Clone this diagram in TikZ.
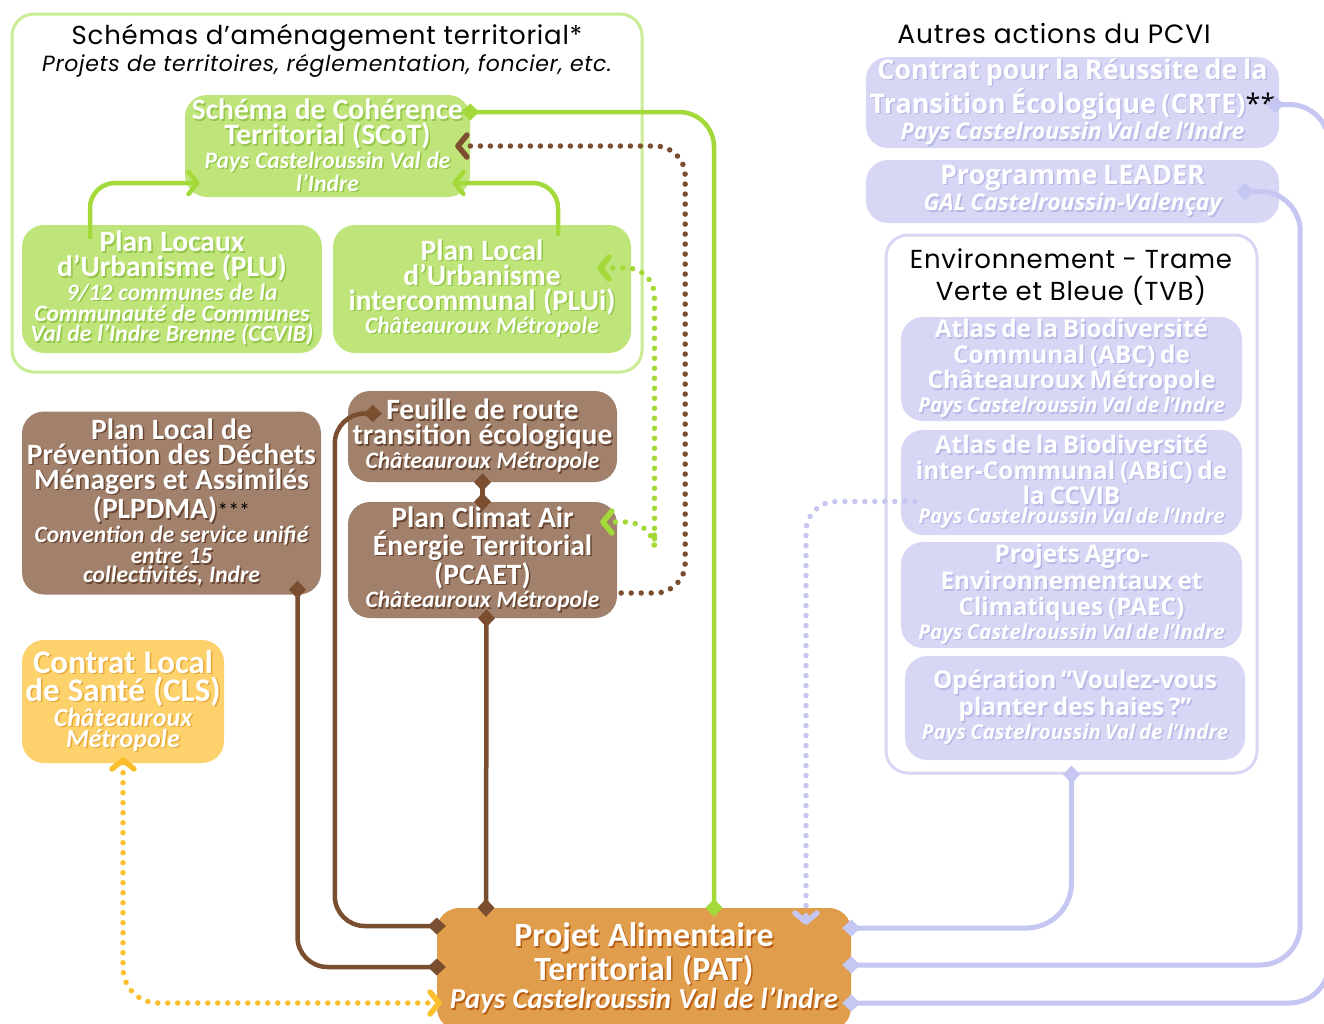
\documentclass[tikz,border=0pt]{standalone}
\usepackage{fontspec}
\setmainfont{Carlito}
\newfontfamily\lavfont{Open Sans}
\newfontfamily\headfont{Poppins}[LetterSpace=3.0]
\usetikzlibrary{arrows.meta}
\setlength{\parindent}{0pt}

\definecolor{grfill}{HTML}{BFE57A}
\definecolor{grline}{HTML}{A4D93A}
\definecolor{grframe}{HTML}{C9EC95}
\definecolor{grshd}{HTML}{93C548}
\definecolor{brfill}{HTML}{A1816B}
\definecolor{brline}{HTML}{7A4E2E}
\definecolor{brshd}{HTML}{684632}
\definecolor{yefill}{HTML}{FDD16B}
\definecolor{yeline}{HTML}{FBBE2C}
\definecolor{yeshd}{HTML}{E6A838}
\definecolor{patfill}{HTML}{E09D4B}
\definecolor{patshd}{HTML}{B85E12}
\definecolor{lvfill}{HTML}{D7D7F5}
\definecolor{lvline}{HTML}{C5C7F2}
\definecolor{lvshd}{HTML}{B8B8E6}
\colorlet{shd}{black}

% text with a small drop shadow
\newcommand{\sh}[1]{\leavevmode\rlap{\kern1.5pt\raisebox{-1.5pt}{\textcolor{shd}{#1}}}#1}
\newcommand{\wsp}{\spaceskip=0.25em\relax}
\newcommand{\lsp}{\spaceskip=0.2em\relax}
\newcommand{\mainsz}{\fontsize{29.5}{25}\selectfont\bfseries\wsp}
\newcommand{\subsz}{\fontsize{23.5}{21.5}\selectfont\bfseries\itshape\wsp}
\newcommand{\lavmain}{\lavfont\fontsize{24.3}{25.5}\selectfont\bfseries\lsp}
\newcommand{\lavsub}{\lavfont\fontsize{20.5}{23}\selectfont\bfseries\itshape\lsp}

\tikzset{
  dia/.tip={Diamond[length=18pt,width=17pt]},
  chev/.tip={Straight Barb[length=9pt,width=22pt,round]},
  wh/.style 2 args={minimum width=#1, minimum height=#2, text width=#1},
  plan/.style={rectangle, rounded corners=22pt, inner sep=0pt, align=flush center, text=white},
  plangreen/.style={plan, fill=grfill, execute at begin node={\colorlet{shd}{grshd}}},
  planbrown/.style={plan, fill=brfill, execute at begin node={\colorlet{shd}{brshd}}},
  planyellow/.style={plan, fill=yefill, execute at begin node={\colorlet{shd}{yeshd}}},
  planpat/.style={plan, fill=patfill, execute at begin node={\colorlet{shd}{patshd}}},
  planlav/.style={plan, fill=lvfill, execute at begin node={\colorlet{shd}{lvshd}}},
  frame/.style={rectangle, rounded corners=22pt, line width=3pt, inner sep=0pt},
  link/.style={line width=4.5pt, rounded corners=30pt},
  dots/.style={line width=5.5pt, line cap=round, dash pattern=on 0pt off 10pt},
}

\begin{document}
\begin{tikzpicture}[x=1pt, y=-1pt]
\useasboundingbox (0,0) rectangle (1324,1023);

% frames and titles
\node[frame, draw=grframe, minimum width=630pt, minimum height=358pt] (schframe) at (327,193) {};
\node[frame, draw=lvfill, minimum width=371pt, minimum height=538pt] (tvb) at (1071.5,504) {};
\node[font=\headfont\fontsize{26}{28}\selectfont] (schtitle) at (327,38) {Schémas d’aménagement territorial*};
\node[font=\headfont\fontsize{22}{23}\selectfont\itshape] (schsub) at (327,66) {Projets de territoires, réglementation, foncier, etc.};
\node[font=\headfont\fontsize{26.5}{28}\selectfont] (autres) at (1054,34) {Autres actions du PCVI};
\node[font=\headfont\fontsize{26}{32}\selectfont, align=center] (tvbtitle) at (1071,277) {Environnement - Trame\\Verte et Bleue (TVB)};

% green plans
\node[plangreen, wh={285pt}{102pt}] (scot) at (327.5,146)
  {\mainsz\sh{Schéma de Cohérence}\\\sh{Territorial (SCoT)}\par
   \subsz\sh{Pays Castelroussin Val de}\\\sh{l’Indre}};
\node[plangreen, wh={300pt}{128pt}] (plu) at (172,289)
  {\mainsz\sh{Plan Locaux}\\\sh{d’Urbanisme (PLU)}\par
   \subsz\sh{9/12 communes de la}\\\sh{Communauté de Communes}\\\sh{Val de l’Indre Brenne (CCVIB)}};
\node[plangreen, wh={298pt}{128pt}] (plui) at (482,289)
  {\mainsz\sh{Plan Local}\\\sh{d’Urbanisme}\\\sh{intercommunal (PLUi)}\par
   \subsz\sh{Châteauroux Métropole}};

% brown plans
\node[planbrown, wh={299pt}{183pt}] (plpdma) at (171.5,503)
  {\mainsz\sh{Plan Local de}\\\sh{Prévention des Déchets}\\\sh{Ménagers et Assimilés}\\\sh{(PLPDMA)}{\color{black}\mdseries\fontsize{22}{20}\selectfont***}\par
   \subsz\sh{Convention de service unifié}\\\sh{entre 15}\\\sh{collectivités, Indre}};
\node[planbrown, wh={269pt}{91pt}] (feuille) at (482.5,436.5)
  {\mainsz\sh{Feuille de route}\\\sh{transition écologique}\par
   \subsz\sh{Châteauroux Métropole}};
\node[planbrown, wh={269pt}{116pt}] (pcaet) at (482.5,560)
  {\mainsz\sh{Plan Climat Air}\\\sh{Énergie Territorial}\\\sh{(PCAET)}\par
   \subsz\sh{Châteauroux Métropole}};

% health and food
\node[planyellow, wh={202pt}{123pt}] (cls) at (123,701.5)
  {\fontsize{33}{28}\selectfont\bfseries\wsp\sh{Contrat Local}\\\sh{de Santé (CLS)}\par
   \fontsize{26}{25}\selectfont\bfseries\itshape\wsp\sh{Châteauroux}\\\sh{Métropole}};
\node[planpat, wh={414pt}{122pt}] (pat) at (644,969)
  {\fontsize{34}{32}\selectfont\bfseries\wsp\sh{Projet Alimentaire}\\\sh{Territorial (PAT)}\par
   \fontsize{29}{29}\selectfont\bfseries\itshape\wsp\sh{Pays Castelroussin Val de l’Indre}};

% other actions
\node[planlav, wh={413pt}{91pt}] (crte) at (1072.5,102.5)
  {\lavfont\fontsize{27}{28}\selectfont\bfseries\lsp\sh{Contrat pour la Réussite de la}\\\sh{Transition Écologique (CRTE)}{\color{black}\mdseries**}\par
   \lavfont\fontsize{23}{26}\selectfont\bfseries\itshape\lsp\sh{Pays Castelroussin Val de l’Indre}};
\node[planlav, wh={413pt}{63pt}] (leader) at (1072.5,191.5)
  {\lavfont\fontsize{27}{26}\selectfont\bfseries\lsp\sh{Programme LEADER}\par
   \lavfont\fontsize{23}{25}\selectfont\bfseries\itshape\lsp\sh{GAL Castelroussin-Valençay}};
\node[planlav, wh={341pt}{104pt}] (abc) at (1071.5,369)
  {\lavmain\sh{Atlas de la Biodiversité}\\\sh{Communal (ABC) de}\\\sh{Châteauroux Métropole}\par
   \lavsub\sh{Pays Castelroussin Val de l’Indre}};
\node[planlav, wh={341pt}{105pt}] (abic) at (1071.5,482.5)
  {\lavmain\sh{Atlas de la Biodiversité}\\\sh{inter-Communal (ABiC) de}\\\sh{la CCVIB}\par
   \lavsub\sh{Pays Castelroussin Val de l’Indre}};
\node[planlav, wh={341pt}{106pt}] (paec) at (1071.5,595)
  {\lavmain\sh{Projets Agro-}\\\sh{Environnementaux et}\\\sh{Climatiques (PAEC)}\par
   \lavsub\sh{Pays Castelroussin Val de l’Indre}};
\node[planlav, wh={340pt}{104pt}] (voulez) at (1075,708)
  {\lavmain\sh{Opération “Voulez-vous}\\\sh{planter des haies ?”}\par
   \lavsub\sh{Pays Castelroussin Val de l’Indre}};

% green links
\draw[link, draw=grline, dia-dia, shorten <=-9pt, shorten >=-9pt, rounded corners=35pt] ([yshift=34pt]scot.east) -| ([xshift=70pt]pat.north);
\draw[link, draw=grline, -chev, shorten <=-14pt, rounded corners=25pt] ([xshift=-82pt]plu.north) |- ([xshift=15pt,yshift=-37pt]scot.west);
\draw[link, draw=grline, -chev, shorten <=-11pt, rounded corners=25pt] ([xshift=76pt]plui.north) |- ([xshift=-18pt,yshift=-37pt]scot.east);
\draw[grline, dots, chev-chev, rounded corners=28pt] ([xshift=-34pt,yshift=21pt]plui.east) -| ([xshift=172pt]pcaet.center) |- ([xshift=-17pt,yshift=38pt]pcaet.east);

% brown links
\draw[brline, dots, -chev, rounded corners=30pt] ([xshift=4pt,yshift=-33pt]pcaet.east) -| ([xshift=215pt]scot.east) -- ([xshift=-15pt]scot.east);
\draw[link, draw=brline, dia-dia, shorten <=-9pt, shorten >=-9pt] ([xshift=25pt,yshift=23pt]feuille.west) -- ++(-38,0) |- ([yshift=43pt]pat.west);
\draw[link, draw=brline, dia-dia, shorten <=-9pt, shorten >=-9pt] ([xshift=126pt,yshift=5pt]plpdma.south) |- ([yshift=2pt]pat.west);
\draw[link, draw=brline, dia-dia, shorten <=-9pt, shorten >=-9pt] (feuille.south) -- (pcaet.north);
\draw[link, draw=brline, dia-dia, shorten <=-9pt, shorten >=-9pt] ([xshift=4pt]pcaet.south) -- ([xshift=-158pt]pat.north);

% health link
\draw[yeline, dots, chev-chev, rounded corners=35pt] ([yshift=6pt]cls.south) |- ([xshift=5pt,yshift=-34pt]pat.west);

% lavender links
\draw[lvline, dots, -chev, rounded corners=30pt] ([xshift=14pt,yshift=-19pt]abic.west) -| ([xshift=162pt,yshift=-17pt]pat.north);
\draw[link, draw=lvline, line width=5pt, dia-dia, shorten <=-9pt, shorten >=-9pt, rounded corners=45pt] (tvb.south) |- ([yshift=41pt]pat.east);
\draw[link, draw=lvline, line width=5pt, dia-dia, shorten <=-9pt, shorten >=-9pt, rounded corners=40pt] ([xshift=-34pt]leader.east) -- ++(55,0) |- ([yshift=4pt]pat.east);
\draw[link, draw=lvline, line width=5pt, dia-dia, shorten <=-9pt, shorten >=-9pt, rounded corners=40pt] ([xshift=-4pt,yshift=-2pt]crte.east) -- ++(54,0) |- ([yshift=-34pt]pat.east);
\end{tikzpicture}
\end{document}
